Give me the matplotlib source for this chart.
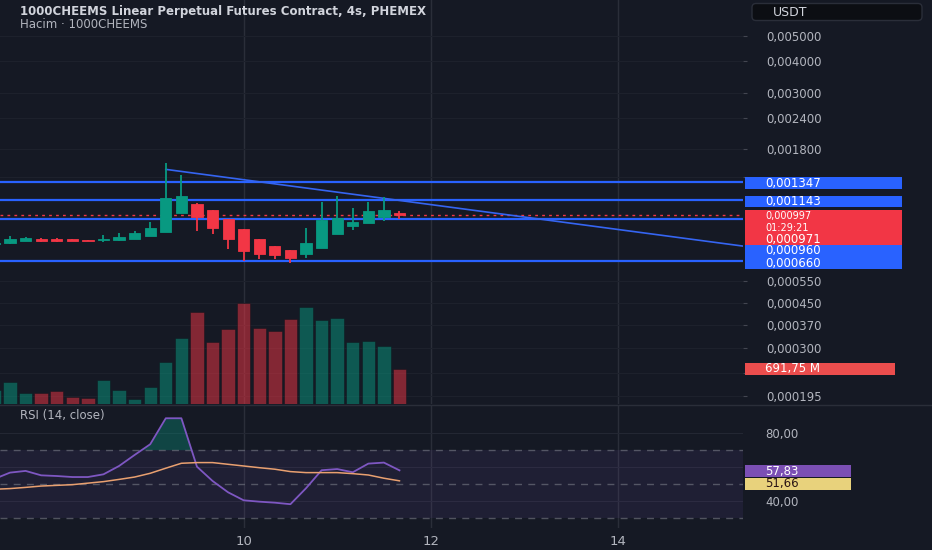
import numpy as np
import matplotlib
matplotlib.use("Agg")
import matplotlib.pyplot as plt
from matplotlib.patches import Rectangle, FancyBboxPatch
from matplotlib.lines import Line2D
from matplotlib.ticker import FixedLocator, FuncFormatter, NullLocator
from matplotlib.transforms import Affine2D

# 4h candles, index 15 = day 10 00:00
bar_idx = list(range(-1, 26))
opens = [0.000770, 0.000773, 0.000789, 0.000800, 0.000800, 0.000800, 0.000795, 0.000797, 0.000794,
         0.000805, 0.000825, 0.000855, 0.001015, 0.001104, 0.001040, 0.000962, 0.000881, 0.000801,
         0.000752, 0.000725, 0.000700, 0.000738, 0.000842, 0.000905, 0.000925, 0.000979, 0.001012]
highs = [0.000785, 0.000825, 0.000818, 0.000810, 0.000812, 0.000803, 0.000798, 0.000831, 0.000850,
         0.000861, 0.000933, 0.001597, 0.001430, 0.001114, 0.001040, 0.000962, 0.000881, 0.000801,
         0.000752, 0.000725, 0.000884, 0.001124, 0.001186, 0.001059, 0.001124, 0.001169, 0.001034]
lows = [0.000765, 0.000771, 0.000787, 0.000782, 0.000781, 0.000789, 0.000788, 0.000781, 0.000789,
        0.000805, 0.000825, 0.000855, 0.001015, 0.000863, 0.000838, 0.000732, 0.000660, 0.000669,
        0.000672, 0.000649, 0.000675, 0.000738, 0.000842, 0.000871, 0.000925, 0.000942, 0.000959]
closes = [0.000778, 0.000801, 0.000808, 0.000791, 0.000791, 0.000791, 0.000790, 0.000800, 0.000815,
          0.000845, 0.000889, 0.001165, 0.001186, 0.000982, 0.000884, 0.000803, 0.000719, 0.000703,
          0.000693, 0.000677, 0.000777, 0.000953, 0.000968, 0.000939, 0.001034, 0.001046, 0.000997]
volume_m = [277, 429, 217, 211, 257, 132, 119, 468, 283, 99, 336, 824, 1304, 1818, 1219, 1482,
            1990, 1496, 1442, 1680, 1911, 1660, 1693, 1231, 1251, 1152, 691.75]
rsi = [52.8, 56.5, 57.5, 54.9, 54.5, 53.9, 53.9, 55.5, 60.4, 66.9, 73.2, 88.5, 88.5, 60.0, 51.6,
       44.9, 40.2, 39.4, 38.8, 37.9, 47.3, 57.9, 58.6, 56.7, 61.8, 62.4, 57.83]
rsi_ma = [46.7, 47.1, 47.8, 48.6, 49.0, 49.4, 50.3, 51.2, 52.5, 53.9, 56.1, 59.1, 62.0, 62.4, 62.4,
          61.4, 60.4, 59.4, 58.5, 57.1, 56.5, 56.5, 56.5, 55.9, 55.1, 53.2, 51.66]

levels = [0.001347, 0.001143, 0.00096, 0.00066]
last_price = 0.000997
second_price = 0.000971
countdown = '01:29:21'
trend_x = [10, 48]
trend_p = [0.001504, 0.000740]

price_ticks = [0.005, 0.004, 0.003, 0.0024, 0.0018, 0.0014, 0.00055, 0.00045, 0.00037,
               0.0003, 0.00024, 0.000195]
rsi_ticks = [80, 60, 40]
# ticks whose labels sit under the price tags (grid line only)
covered = [0.0014, 0.00024, 60]
day_ticks = [15, 27, 39]
day_labels = ['10', '12', '14']

BG = '#151924'
UP = '#089981'
DOWN = '#f23645'
BLUE = '#2962ff'
PURPLE = '#7e57c2'
TXT = '#b2b5be'
W, H = 932, 550
FS = 8.5


def comma(v, nd):
    return f'{v:.{nd}f}'.replace('.', ',')


def tick_fmt(nd):
    return FuncFormatter(lambda v, p: '' if any(abs(v - c) < 1e-9 for c in covered) else comma(v, nd))


fig = plt.figure(figsize=(W / 100, H / 100), dpi=100, facecolor=BG)
# pixel coords, origin top-left
PX = Affine2D().scale(1 / 100, -1 / 100).translate(0, H / 100) + fig.dpi_scale_trans


def rect(x0, y0, x1, y1):
    return [x0 / W, 1 - y1 / H, (x1 - x0) / W, (y1 - y0) / H]


XLIM = (-0.642, 47.05)

# ---- price panel
ax = fig.add_axes(rect(0, 0, 743, 404))
ax.set_facecolor(BG)
ax.set_yscale('log')
ax.set_ylim(0.0001815, 0.006921)
ax.set_xlim(*XLIM)
axv = ax.twinx()
axv.set_ylim(0, 7990)
axv.set_yticks([])
for a in (ax, axv):
    for s in a.spines.values():
        s.set_visible(False)

ax.yaxis.tick_right()
ax.yaxis.set_major_locator(FixedLocator(price_ticks))
ax.yaxis.set_minor_locator(NullLocator())
ax.yaxis.set_major_formatter(tick_fmt(6))
ax.tick_params(axis='y', labelcolor=TXT, labelsize=FS, length=3, pad=13.7, color='#434651')
ax.set_xticks(day_ticks)
ax.tick_params(axis='x', length=0, labelbottom=False)
ax.set_axisbelow(True)
ax.xaxis.grid(True, color='#2a2e39', lw=1)
ax.yaxis.grid(True, color='#1d212c', lw=0.8)

vol_colors = [UP if c >= o else DOWN for o, c in zip(opens, closes)]
axv.bar(bar_idx, volume_m, width=0.86, color=vol_colors, alpha=0.5,
        edgecolor='#0e1118', linewidth=0.6)

cdl_colors = [UP if c >= o else DOWN for o, c in zip(opens, closes)]
ax.vlines(bar_idx, lows, highs, colors=cdl_colors, lw=1.3, zorder=3)
body_lo = [min(o, c) for o, c in zip(opens, closes)]
body_h = [abs(c - o) for o, c in zip(opens, closes)]
ax.bar(bar_idx, body_h, bottom=body_lo, width=0.72, color=cdl_colors,
       edgecolor=cdl_colors, linewidth=0.6, zorder=4)

for lv in levels:
    ax.axhline(lv, color=BLUE, lw=1.6, zorder=2)
ax.axhline(last_price, color=DOWN, lw=1, ls=(0, (2, 3)), zorder=2)
ax.plot(trend_x, trend_p, color='#3565f2', lw=1.2, zorder=2)

# ---- RSI panel
axr = fig.add_axes(rect(0, 405, 743, 528))
axr.set_facecolor(BG)
axr.set_xlim(*XLIM)
axr.set_ylim(23.9, 96.3)
for s in axr.spines.values():
    s.set_visible(False)
axr.axhspan(30, 70, color=PURPLE, alpha=0.1, lw=0)
for lv in (70, 50, 30):
    axr.axhline(lv, color='#787b86', lw=1, ls=(0, (5, 4.5)), alpha=0.6)
rsi_arr = np.array(rsi)
axr.fill_between(bar_idx, 70, rsi_arr, where=rsi_arr > 70, interpolate=True,
                 color=UP, alpha=0.35, lw=0)
axr.plot(bar_idx, rsi, color=PURPLE, lw=1.3)
axr.plot(bar_idx, rsi_ma, color='#e9a070', lw=1.1)
axr.yaxis.tick_right()
axr.set_yticks(rsi_ticks)
axr.yaxis.set_major_formatter(tick_fmt(2))
axr.tick_params(axis='y', labelcolor=TXT, labelsize=FS, length=0, pad=15.8)
axr.set_xticks(day_ticks)
axr.set_xticklabels(day_labels)
axr.tick_params(axis='x', labelcolor=TXT, labelsize=9.5, length=0, pad=5)
axr.set_axisbelow(True)
axr.xaxis.grid(True, color='#2a2e39', lw=1)
axr.yaxis.grid(True, color='#232733', lw=0.8)

# ---- texts and tags in pixel space
fig.text(20, 12, '1000CHEEMS Linear Perpetual Futures Contract, 4s, PHEMEX', transform=PX,
         color='#d1d4dc', fontsize=8.5, fontweight='bold', va='center')
fig.text(20, 24, 'Hacim · 1000CHEEMS', transform=PX, color=TXT, fontsize=8.5, va='center')
fig.text(20, 416, 'RSI (14, close)', transform=PX, color=TXT, fontsize=8.5, va='center')

fig.add_artist(FancyBboxPatch((752, 3.5), 170, 17, boxstyle='round,pad=0,rounding_size=4',
                              transform=PX, fc='#0c0e13', ec='#2a2e39', lw=1))
fig.text(773, 12, 'USDT', transform=PX, color='#d1d4dc', fontsize=9, va='center')

fig.add_artist(Line2D([0, W], [404.5, 404.5], transform=PX, color='#2a2e39', lw=1))


def tag(lines, fc, tc, top, bottom, x1=902, fs=FS):
    fig.add_artist(Rectangle((745, top), x1 - 745, bottom - top, transform=PX,
                             fc=fc, ec='none'))
    step = (bottom - top) / len(lines)
    for k, s in enumerate(lines):
        fig.text(765, top + step * (k + 0.5), s, transform=PX, color=tc,
                 fontsize=fs, va='center')


tag([comma(levels[0], 6)], BLUE, 'white', 177.3, 188.7)
tag([comma(levels[1], 6)], BLUE, 'white', 195.7, 207)
tag([comma(last_price, 6), countdown], DOWN, 'white', 210, 233.5, fs=7)
tag([comma(second_price, 6)], DOWN, 'white', 233.5, 245)
tag([comma(levels[2], 6)], BLUE, 'white', 245, 256.7)
tag([comma(levels[3], 6)], BLUE, 'white', 257.3, 268.7)
tag([comma(volume_m[-1], 2) + ' M'], '#eb4d4d', 'white', 362.7, 375, x1=895)
tag([comma(rsi[-1], 2)], '#7b4fb4', 'white', 465, 477.3, x1=851)
tag([comma(rsi_ma[-1], 2)], '#e8d27c', '#2a1515', 477.7, 490, x1=851)

fig.savefig('out.png', dpi=100, facecolor=BG)
